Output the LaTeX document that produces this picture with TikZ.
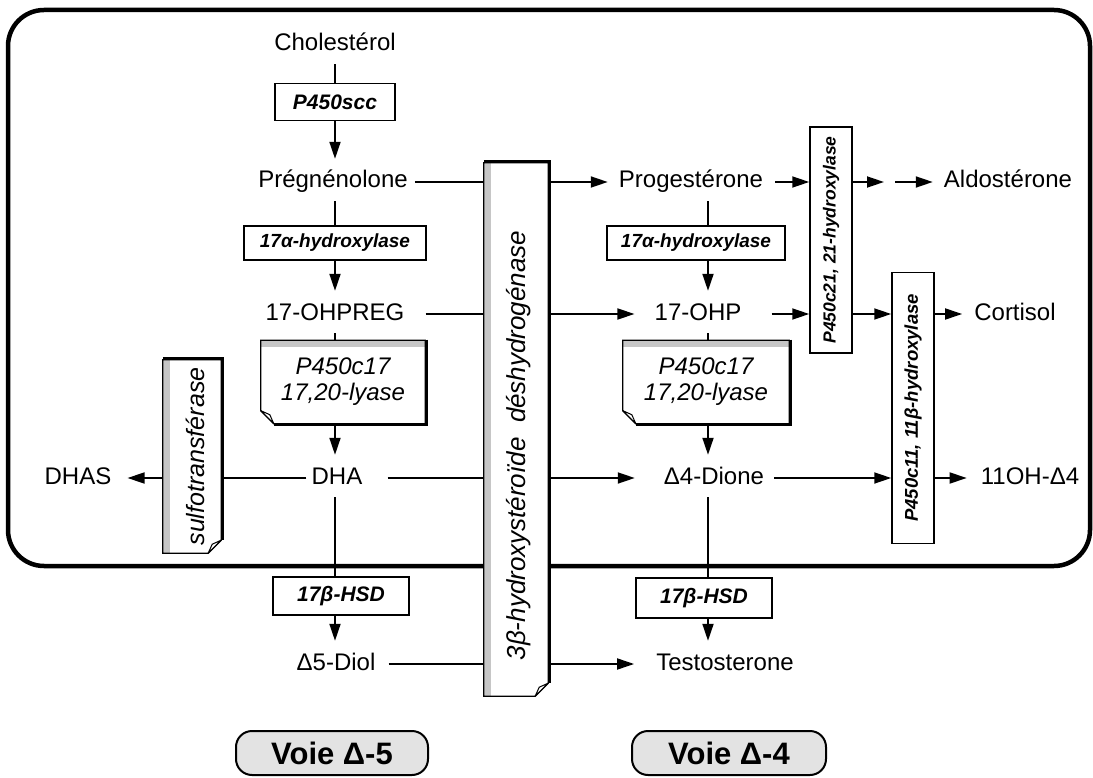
\documentclass[tikz,border=0pt]{standalone}
\usepackage{fontspec}
\setmainfont{Liberation Sans}
\usetikzlibrary{arrows.meta,calc}
\newcommand\hnotedeco[1]{%
 \fill[gray!45] let \p1=(#1.north west), \p2=(#1.south east) in (\x1,\y1) rectangle (\x2,\y1-7pt);
 \draw[line width=1.3pt] let \p1=(#1.north west), \p2=(#1.south east) in (\x1,\y1) -- (\x2,\y1) -- (\x2,\y2) -- (\x1+13pt,\y2) -- (\x1,\y2+13pt) -- cycle;
 \draw[line width=3pt] let \p1=(#1.north west), \p2=(#1.south east) in (\x2+1pt,\y1+0.6pt) -- (\x2+1pt,\y2-1pt) -- (\x1+13pt,\y2-1pt);
 \draw[line width=1pt,fill=white,line join=round] let \p1=(#1.north west), \p2=(#1.south east) in (\x1,\y2+13pt) -- (\x1+9pt,\y2+9pt) -- (\x1+13pt,\y2) -- cycle;
}
\newcommand\vnotedeco[1]{%
 \fill[gray!45] let \p1=(#1.north west), \p2=(#1.south east) in (\x1,\y1) rectangle (\x1+7pt,\y2);
 \draw[line width=1.3pt] let \p1=(#1.north west), \p2=(#1.south east) in (\x1,\y1) -- (\x2,\y1) -- (\x2,\y2+13pt) -- (\x2-13pt,\y2) -- (\x1,\y2) -- cycle;
 \draw[line width=3pt] let \p1=(#1.north west), \p2=(#1.south east) in (\x1,\y1+1pt) -- (\x2+1pt,\y1+1pt) -- (\x2+1pt,\y2+13pt);
 \draw[line width=1pt,fill=white,line join=round] let \p1=(#1.north west), \p2=(#1.south east) in (\x2,\y2+13pt) -- (\x2-9pt,\y2+9pt) -- (\x2-13pt,\y2) -- cycle;
}
\begin{document}
\begin{tikzpicture}[x=1pt,y=-1pt,
 mol/.style={font=\fontsize{24}{28}\selectfont, inner xsep=5pt, inner ysep=4pt, text height=17pt, text depth=5pt},
 enzf/.style={font=\bfseries\itshape\fontsize{#1}{#1}\selectfont},
 enz/.style={draw, line width=1.5pt, fill=white, inner sep=0pt},
 note/.style={fill=white, inner sep=0pt, align=center},
 notef/.style={font=\itshape\fontsize{24}{26}\selectfont},
 arr/.style={line width=1.8pt, -{Triangle[length=17pt,width=11pt]}},
 ln/.style={line width=1.8pt},
 voie/.style={draw, line width=2pt, rounded corners=16pt, fill=gray!22, font=\bfseries\fontsize{31}{33}\selectfont, minimum height=44pt, inner sep=0pt}
]
\useasboundingbox (0,0) rectangle (1093,778);
\draw[line width=4.5pt, rounded corners=36pt] (8,10) rectangle (1090,566);
\coordinate (L) at (335,0);
\coordinate (R) at (708,0);
% left column
\node[mol] (chol) at (335,45) {Cholestérol};
\node[enz, enzf=21, minimum width=120pt, minimum height=37pt] (scc) at (335,102) {P450scc};
\node[mol] (preg) at (333,182) {Prégnénolone};
\node[enz, enzf=19, minimum width=182pt, minimum height=34pt] (l17a) at (335,243) {17α-hydroxylase};
\node[mol] (ohpreg) at (335,314) {17-OHPREG};
\node[note, notef, minimum width=164pt, minimum height=83pt] (lc17) at (343,382) {P450c17\\17,20-lyase};
\node[mol] (dha) at (337,478) {DHA};
\node[enz, enzf=21, minimum width=136pt, minimum height=38pt] (l17b) at (341,596) {17β-HSD};
\node[mol] (diol) at (336,664) {Δ5-Diol};
% right column
\node[mol] (prog) at (691,182) {Progestérone};
\node[enz, enzf=19, minimum width=178pt, minimum height=34pt] (r17a) at (696,243) {17α-hydroxylase};
\node[mol] (ohp) at (698,314) {17-OHP};
\node[note, notef, minimum width=166pt, minimum height=83pt] (rc17) at (706,382) {P450c17\\17,20-lyase};
\node[mol] (dione) at (714,478) {Δ4-Dione};
\node[enz, enzf=21, minimum width=136pt, minimum height=40pt] (r17b) at (704,598) {17β-HSD};
\node[mol] (testo) at (725,664) {Testosterone};
% far right
\node[enz, minimum width=42pt, minimum height=226pt, label={[rotate=90, enzf=17.5]center:{P450c21, 21-hydroxylase}}] (p21) at (831,240) {};
\node[enz, minimum width=42pt, minimum height=271pt, label={[rotate=90, enzf=18.5]center:{P450c11, 11β-hydroxylase}}] (p11) at (913,408) {};
\node[mol] (ald) at (1008,182) {Aldostérone};
\node[mol] (cort) at (1015,314) {Cortisol};
\node[mol] (oh4) at (1030,478) {11OH-Δ4};
% left side
\node[mol] (dhas) at (78,478) {DHAS};
\node[note, minimum width=58pt, minimum height=193pt, label={[xshift=3pt, rotate=90, font=\itshape\fontsize{25}{27}\selectfont]center:{sulfotransférase}}] (sulfo) at (192,456.5) {};
\node[note, minimum width=64pt, minimum height=533pt, label={[xshift=3pt, yshift=-16pt, rotate=90, font=\itshape\fontsize{26}{28}\selectfont]center:{3β-hydroxystéroïde\ \ déshydrogénase}}] (b3) at (516,429.5) {};
\hnotedeco{lc17}
\hnotedeco{rc17}
\vnotedeco{sulfo}
\vnotedeco{b3}
% voie boxes
\node[voie, minimum width=192pt] (v5) at (332,753) {Voie Δ-5};
\node[voie, minimum width=194pt] (v4) at (729,753) {Voie Δ-4};
% left column connectors
\draw[ln, shorten <=4pt] (chol.south -| L) -- (scc.north -| L);
\draw[arr, shorten >=8pt] (scc.south -| L) -- (preg.north -| L);
\draw[ln, shorten <=4pt] (preg.south -| L) -- (l17a.north -| L);
\draw[arr, shorten >=8pt] (l17a.south -| L) -- (ohpreg.north -| L);
\draw[ln, shorten <=4pt] (ohpreg.south -| L) -- (lc17.north -| L);
\draw[arr, shorten <=2pt, shorten >=8pt] (lc17.south -| L) -- (dha.north -| L);
\draw[ln, shorten <=4pt] (dha.south -| L) -- (l17b.north -| L);
\draw[arr, shorten >=8pt] (l17b.south -| L) -- (diol.north -| L);
% right column connectors
\draw[ln, shorten <=4pt] (prog.south -| R) -- (r17a.north -| R);
\draw[arr, shorten >=8pt] (r17a.south -| R) -- (ohp.north -| R);
\draw[ln, shorten <=4pt] (ohp.south -| R) -- (rc17.north -| R);
\draw[arr, shorten <=2pt, shorten >=8pt] (rc17.south -| R) -- (dione.north -| R);
\draw[ln, shorten <=4pt] (dione.south -| R) -- (r17b.north -| R);
\draw[arr, shorten >=8pt] (r17b.south -| R) -- (testo.north -| R);
% across 3beta
\draw[ln, shorten <=2pt] (preg.east) -- (preg.east -| b3.west);
\draw[arr, shorten <=2pt, shorten >=6pt] (preg.east -| b3.east) -- (prog.west);
\draw[ln, shorten <=16pt] (ohpreg.east) -- (ohpreg.east -| b3.west);
\draw[arr, shorten <=2pt, shorten >=15pt] (ohpreg.east -| b3.east) -- (ohp.west);
\draw[ln, shorten <=20pt] (dha.east) -- (dha.east -| b3.west);
\draw[arr, shorten <=2pt, shorten >=24pt] (dha.east -| b3.east) -- (dione.west);
\draw[ln, shorten <=8pt] (diol.east) -- (diol.east -| b3.west);
\draw[arr, shorten <=2pt, shorten >=17pt] (diol.east -| b3.east) -- (testo.west);
% sulfo
\draw[ln] (dha.west) -- (dha.west -| sulfo.east);
\draw[arr, shorten >=11pt] (dha.west -| sulfo.west) -- (dhas.east);
% right side
\coordinate (c1) at (884,182);
\coordinate (c2) at (895,182);
\draw[arr, shorten <=7pt] (prog.east) -- (prog.east -| p21.west);
\draw[arr] (prog.east -| p21.east) -- (c1);
\draw[arr, shorten >=6pt] (c2) -- (ald.west);
\draw[arr, shorten <=25pt] (ohp.east) -- (ohp.east -| p21.west);
\draw[arr] (ohp.east -| p21.east) -- (ohp.east -| p11.west);
\draw[arr, shorten >=7pt] (ohp.east -| p11.east) -- (cort.west);
\draw[arr, shorten <=5pt] (dione.east) -- (dione.east -| p11.west);
\draw[arr, shorten >=9pt] (dione.east -| p11.east) -- (oh4.west);
\end{tikzpicture}
\end{document}
